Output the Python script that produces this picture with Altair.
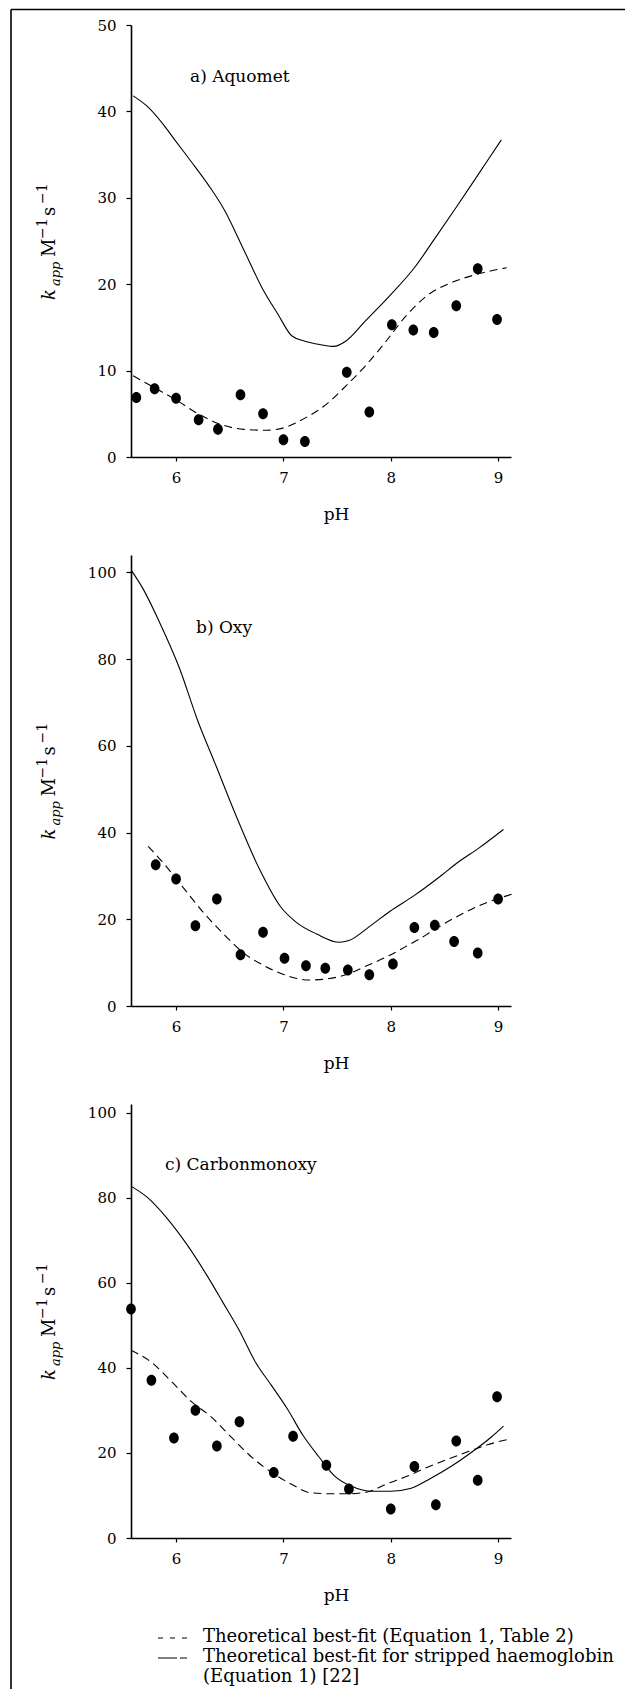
import altair as alt
import pandas as pd

FONT = "DejaVu Serif"

# ---------------- data ----------------
# a) Aquomet
ph_pts_a = [5.63, 5.80, 6.00, 6.21, 6.39, 6.60, 6.81, 7.00, 7.20, 7.59, 7.80, 8.01, 8.21, 8.40, 8.61, 8.81, 8.99]
k_pts_a = [6.9, 7.9, 6.8, 4.3, 3.2, 7.2, 5.0, 2.0, 1.8, 9.8, 5.2, 15.3, 14.7, 14.4, 17.5, 21.8, 15.9]
ph_strip_a = [5.60, 5.73, 5.88, 6.00, 6.14, 6.30, 6.45, 6.63, 6.80, 6.95, 7.08, 7.20, 7.35, 7.47, 7.58, 7.76, 8.00, 8.22, 8.40, 8.61, 8.82, 9.03]
k_strip_a = [41.8, 40.6, 38.5, 36.5, 34.2, 31.5, 28.6, 24.0, 19.6, 16.5, 14.0, 13.4, 13.0, 12.8, 13.4, 15.7, 18.8, 21.9, 25.1, 28.9, 32.8, 36.7]
ph_fit_a = [5.60, 5.80, 6.00, 6.22, 6.41, 6.63, 6.84, 7.01, 7.20, 7.39, 7.58, 7.76, 7.95, 8.14, 8.33, 8.59, 8.82, 9.08]
k_fit_a = [9.4, 8.0, 6.6, 4.9, 3.8, 3.2, 3.1, 3.4, 4.5, 6.0, 8.2, 10.5, 13.3, 16.3, 18.6, 20.3, 21.2, 21.9]

# b) Oxy
ph_pts_b = [5.81, 6.00, 6.18, 6.38, 6.60, 6.81, 7.01, 7.21, 7.39, 7.60, 7.80, 8.02, 8.22, 8.41, 8.59, 8.81, 9.00]
k_pts_b = [32.6, 29.3, 18.5, 24.7, 11.8, 17.0, 11.0, 9.3, 8.7, 8.3, 7.2, 9.7, 18.1, 18.6, 14.9, 12.2, 24.7]
ph_strip_b = [5.585, 5.69, 5.84, 6.03, 6.20, 6.37, 6.56, 6.78, 6.97, 7.12, 7.31, 7.52, 7.61, 7.80, 7.99, 8.22, 8.45, 8.63, 8.82, 9.05]
k_strip_b = [100.4, 96.3, 88.8, 78.0, 65.9, 55.5, 43.8, 31.4, 23.0, 19.3, 16.6, 14.7, 15.1, 18.3, 21.8, 25.5, 29.7, 33.2, 36.4, 40.7]
ph_fit_b = [5.74, 5.88, 6.07, 6.26, 6.45, 6.63, 6.82, 7.01, 7.24, 7.39, 7.58, 7.76, 7.95, 8.14, 8.33, 8.52, 8.71, 8.90, 9.16]
k_fit_b = [36.8, 33.0, 27.2, 21.4, 16.4, 12.2, 9.3, 7.2, 6.0, 6.2, 7.2, 9.1, 11.2, 13.7, 16.4, 19.3, 21.8, 23.9, 26.0]

# c) Carbonmonoxy
ph_pts_c = [5.58, 5.77, 5.98, 6.18, 6.38, 6.59, 6.91, 7.09, 7.40, 7.61, 8.00, 8.22, 8.42, 8.61, 8.81, 8.99]
k_pts_c = [53.8, 37.1, 23.5, 30.0, 21.6, 27.3, 15.4, 23.9, 17.1, 11.5, 6.8, 16.8, 7.8, 22.8, 13.6, 33.2]
ph_strip_c = [5.58, 5.73, 5.92, 6.10, 6.29, 6.44, 6.59, 6.74, 6.89, 7.04, 7.18, 7.33, 7.48, 7.63, 7.81, 8.00, 8.19, 8.37, 8.56, 8.75, 8.94, 9.05]
k_strip_c = [82.7, 80.1, 75.0, 69.0, 61.6, 55.2, 48.7, 41.3, 35.8, 30.2, 24.2, 19.1, 14.5, 12.2, 11.0, 11.0, 11.7, 14.0, 16.8, 20.1, 23.8, 26.3]
ph_fit_c = [5.58, 5.77, 5.96, 6.14, 6.33, 6.51, 6.70, 6.89, 7.07, 7.26, 7.44, 7.59, 7.78, 7.96, 8.15, 8.33, 8.52, 8.71, 8.90, 9.11]
k_fit_c = [44.1, 41.3, 36.7, 32.1, 28.4, 23.8, 19.1, 15.4, 12.7, 10.6, 10.4, 10.4, 10.8, 12.7, 14.5, 16.5, 18.4, 20.2, 21.9, 23.3]

x_ticks = [6, 7, 8, 9]
y_ticks_a = [0, 10, 20, 30, 40, 50]
y_ticks_bc = [0, 20, 40, 60, 80, 100]
panel_labels = ["a) Aquomet", "b) Oxy", "c) Carbonmonoxy"]
legend_lines = [
    "Theoretical best-fit (Equation 1, Table 2)",
    "Theoretical best-fit for stripped haemoglobin",
    "(Equation 1) [22]",
]

# ---------------- layout constants ----------------
X_DOMAIN = [5.58, 9.12]
W = 380
ELLIPSE = "M-0.88,0A0.88,1,0,1,1,0.88,0A0.88,1,0,1,1,-0.88,0Z"


def one_row(text):
    return pd.DataFrame({"t": [text]})


def text_layer(text, x, y, size, italic=False, angle=0, align="left", baseline="alphabetic"):
    kw = dict(font=FONT, fontSize=size, color="black", align=align, baseline=baseline)
    if italic:
        kw["fontStyle"] = "italic"
    if angle:
        kw["angle"] = angle
    return alt.Chart(one_row(text)).mark_text(**kw).encode(
        x=alt.value(x), y=alt.value(y), text="t:N"
    )


def ytitle_layers(height):
    cy = height / 2
    pieces = [
        ("k", 18, True, -76, 59),
        ("app", 13, True, -71, 45),
        ("M", 18, False, -76, 16),
        ("\u22121", 14, False, -84, -2),
        ("s", 18, False, -76, -25),
        ("\u22121", 14, False, -84, -37),
    ]
    return [text_layer(t, x, cy + yb, s, italic=it, angle=270) for t, s, it, x, yb in pieces]


def panel(px, py, sx, sy, fx, fy, ymax, yticks, height, label, lab_x, lab_y, extra=()):
    X = alt.X(
        "pH:Q",
        scale=alt.Scale(domain=X_DOMAIN, nice=False, zero=False),
        axis=alt.Axis(
            values=x_ticks, format="d", tickSize=4, labelPadding=9, labelFontSize=15,
            domainWidth=1.6, tickWidth=1.2, title="pH", titleX=205, titleY=57,
            titleBaseline="middle", titleAlign="center", titleFontSize=17,
            titleFontWeight="normal", labelFlush=False,
        ),
    )
    Y = alt.Y(
        "k:Q",
        scale=alt.Scale(domain=[0, ymax], nice=False, zero=True),
        axis=alt.Axis(
            values=yticks, format="d", tickSize=5, labelPadding=10, labelFontSize=15,
            domainWidth=1.6, tickWidth=1.2, title=None, labelFlush=False,
        ),
    )
    pts = pd.DataFrame({"pH": px, "k": py})
    strip = pd.DataFrame({"pH": sx, "k": sy})
    fit = pd.DataFrame({"pH": fx, "k": fy})
    layers = [
        alt.Chart(strip).mark_line(color="black", strokeWidth=1.1, interpolate="monotone").encode(x=X, y=Y),
        alt.Chart(fit).mark_line(color="black", strokeWidth=1.1, strokeDash=[8, 5], interpolate="monotone").encode(x=X, y=Y),
        alt.Chart(pts).mark_point(shape=ELLIPSE, filled=True, color="black", opacity=1, size=121, strokeWidth=0).encode(x=X, y=Y),
        text_layer(label, lab_x, lab_y, 17),
    ]
    layers += ytitle_layers(height)
    layers += list(extra)
    return alt.layer(*layers).properties(width=W, height=height)


# page frame (left and top edges of the scanned box)
frame = [
    alt.Chart(one_row("")).mark_rule(color="black", strokeWidth=1.6).encode(
        x=alt.value(-120), y=alt.value(-15.5), y2=alt.value(1664)
    ),
    alt.Chart(one_row("")).mark_rule(color="black", strokeWidth=1.6).encode(
        x=alt.value(-120), x2=alt.value(494), y=alt.value(-15.5)
    ),
]

# legend below panel c
legend = [
    alt.Chart(one_row("")).mark_rule(color="black", strokeWidth=1.0, strokeDash=[5, 7]).encode(
        x=alt.value(27), x2=alt.value(56), y=alt.value(534)
    ),
    alt.Chart(one_row("")).mark_rule(color="black", strokeWidth=1.0, strokeDash=[19, 3]).encode(
        x=alt.value(27), x2=alt.value(56), y=alt.value(554)
    ),
    text_layer(legend_lines[0], 72, 533, 18, baseline="middle"),
    text_layer(legend_lines[1], 72, 553, 18, baseline="middle"),
    text_layer(legend_lines[2], 72, 573, 18, baseline="middle"),
]

pa = panel(ph_pts_a, k_pts_a, ph_strip_a, k_strip_a, ph_fit_a, k_fit_a, 50, y_ticks_a, 432,
           panel_labels[0], 59, 57, extra=frame)
pb = panel(ph_pts_b, k_pts_b, ph_strip_b, k_strip_b, ph_fit_b, k_fit_b, 104, y_ticks_bc, 451,
           panel_labels[1], 65, 78)
pc = panel(ph_pts_c, k_pts_c, ph_strip_c, k_strip_c, ph_fit_c, k_fit_c, 102, y_ticks_bc, 434,
           panel_labels[2], 34, 66, extra=legend)

chart = (
    alt.vconcat(pa, pb, pc, spacing=98, bounds="flush")
    .properties(padding={"left": 2, "top": 0, "right": 0, "bottom": 0}, background="white")
    .configure_view(stroke=None)
    .configure_axis(
        labelFont=FONT, titleFont=FONT, labelColor="black", titleColor="black",
        domainColor="black", tickColor="black", grid=False,
    )
)

chart.save("out.html", embed_options={"renderer": "svg", "actions": False})
